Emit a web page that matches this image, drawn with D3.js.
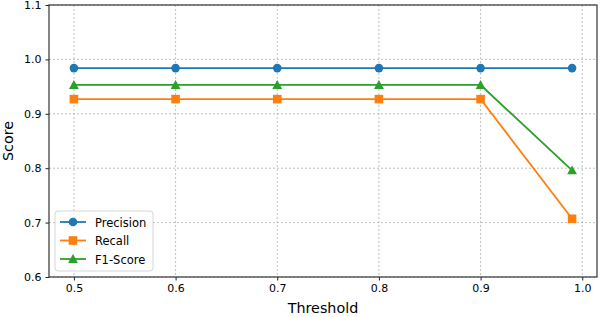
<!DOCTYPE html>
<html>
<head>
<meta charset="utf-8">
<script src="https://cdn.jsdelivr.net/npm/d3@7"></script>
<style>
  body { margin: 0; background: #fff; }
  text { font-family: "DejaVu Sans", sans-serif; fill: #000; }
</style>
</head>
<body>
<div id="chart"></div>
<script>
var thresholds = [0.5, 0.6, 0.7, 0.8, 0.9, 0.99];
var precision = [0.984, 0.984, 0.984, 0.984, 0.984, 0.984];
var recall = [0.927, 0.927, 0.927, 0.927, 0.927, 0.707];
var f1 = [0.953, 0.953, 0.953, 0.953, 0.953, 0.796];
var xTicks = [0.5, 0.6, 0.7, 0.8, 0.9, 1.0];
var yTicks = [0.6, 0.7, 0.8, 0.9, 1.0, 1.1];
var seriesNames = ["Precision", "Recall", "F1-Score"];
var seriesColors = ["#1f77b4", "#ff7f0e", "#2ca02c"];
var seriesMarkers = ["circle", "square", "triangle"];

var W = 600, H = 317;
var m = {top: 5, right: 3, bottom: 40, left: 49};
var w = W - m.left - m.right, h = H - m.top - m.bottom;

var svg = d3.select("#chart").append("svg")
  .attr("width", W).attr("height", H);
var g = svg.append("g").attr("transform", "translate(" + m.left + "," + m.top + ")");

var x = d3.scaleLinear().domain([0.4755, 1.0145]).range([0, w]);
var y = d3.scaleLinear().domain([0.6, 1.1]).range([h, 0]);

// grid
g.append("g").selectAll("line").data(xTicks).enter().append("line")
  .attr("x1", d => x(d)).attr("x2", d => x(d))
  .attr("y1", 0).attr("y2", h)
  .attr("stroke", "#b0b0b0").attr("stroke-width", 0.8)
  .attr("stroke-dasharray", "2,2");
g.append("g").selectAll("line").data(yTicks).enter().append("line")
  .attr("y1", d => y(d)).attr("y2", d => y(d))
  .attr("x1", 0).attr("x2", w)
  .attr("stroke", "#b0b0b0").attr("stroke-width", 0.8)
  .attr("stroke-dasharray", "2,2");

// axes
var xAxis = g.append("g").attr("transform", "translate(0," + h + ")")
  .call(d3.axisBottom(x).tickValues(xTicks).tickFormat(d3.format(".1f")).tickSize(3.5).tickPadding(4));
var yAxis = g.append("g")
  .call(d3.axisLeft(y).tickValues(yTicks).tickFormat(d3.format(".1f")).tickSize(3.5).tickPadding(4));
[xAxis, yAxis].forEach(function(a) {
  a.select(".domain").remove();
  a.selectAll("text").style("font-family", "DejaVu Sans").style("font-size", "11px").attr("fill", "#000");
  a.selectAll("line").attr("stroke", "#222").attr("stroke-width", 1);
});

g.append("rect").attr("width", w).attr("height", h)
  .attr("fill", "none").attr("stroke", "#333").attr("stroke-width", 1.2);

// axis labels
svg.append("text").attr("x", m.left + w / 2).attr("y", H - 4)
  .attr("text-anchor", "middle").style("font-size", "14.3px").text("Threshold");
svg.append("text").attr("transform", "translate(13," + (m.top + h / 2) + ") rotate(-90)")
  .attr("text-anchor", "middle").style("font-size", "14.3px").text("Score");

function marker(sel, type, color, size) {
  if (type === "circle") {
    sel.append("circle").attr("r", size).attr("fill", color);
  } else if (type === "square") {
    sel.append("rect").attr("x", -size).attr("y", -size)
      .attr("width", size * 2).attr("height", size * 2).attr("fill", color);
  } else {
    var s = size * 1.15;
    sel.append("path").attr("d", "M0," + (-s) + "L" + s + "," + (s * 0.8) + "L" + (-s) + "," + (s * 0.8) + "Z")
      .attr("fill", color);
  }
}

var seriesData = [precision, recall, f1];
var line = d3.line().x(d => x(d[0])).y(d => y(d[1]));

seriesData.forEach(function(vals, i) {
  var pts = thresholds.map((t, j) => [t, vals[j]]);
  g.append("path").datum(pts).attr("d", line)
    .attr("fill", "none").attr("stroke", seriesColors[i]).attr("stroke-width", 1.8);
  pts.forEach(function(p) {
    var mk = g.append("g").attr("transform", "translate(" + x(p[0]) + "," + y(p[1]) + ")");
    marker(mk, seriesMarkers[i], seriesColors[i], 4.3);
  });
});

// legend
var lg = g.append("g").attr("transform", "translate(6," + (h - 66) + ")");
lg.append("rect").attr("width", 98).attr("height", 60).attr("rx", 3)
  .attr("fill", "#fff").attr("fill-opacity", 0.8).attr("stroke", "#cccccc").attr("stroke-width", 0.8);
seriesNames.forEach(function(name, i) {
  var row = lg.append("g").attr("transform", "translate(0," + (11 + i * 18.5) + ")");
  row.append("line").attr("x1", 5).attr("x2", 31)
    .attr("stroke", seriesColors[i]).attr("stroke-width", 1.8);
  var mk = row.append("g").attr("transform", "translate(18,0)");
  marker(mk, seriesMarkers[i], seriesColors[i], 4.3);
  row.append("text").attr("x", 40).attr("y", 4.5).style("font-size", "11.5px").text(name);
});
</script>
</body>
</html>
